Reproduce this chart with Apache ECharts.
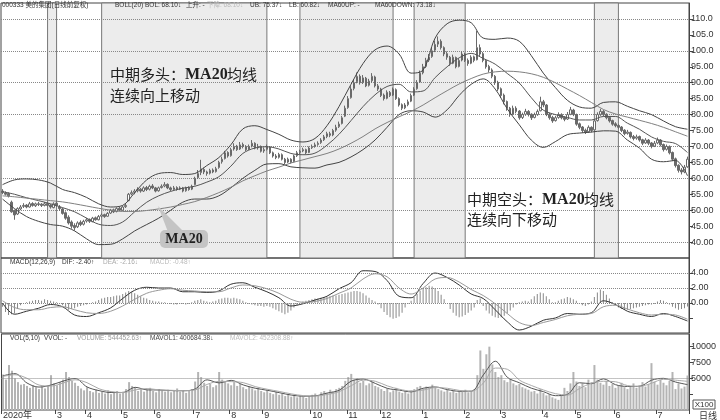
<!DOCTYPE html>
<html lang="zh-CN">
<head>
<meta charset="UTF-8">
<title>美的集团 日线 BOLL</title>
<script src="https://cdn.jsdelivr.net/npm/echarts/dist/echarts.min.js"></script>
<style>html,body{margin:0;padding:0;background:#fff;}</style>
</head>
<body>
<div id="chart" style="width:720px;height:420px"></div>
<script>
// K线，每根 [开, 收, 低, 高]
var candles = [
[56.0,55.5,55.0,56.6],[55.4,55.0,54.6,55.9],[55.2,54.5,54.0,55.6],[52.5,49.5,49.2,53.0],[49.8,48.5,47.0,50.2],[48.8,50.5,48.5,50.9],[50.4,51.0,50.0,51.6],[51.2,51.5,50.7,52.2],[51.6,51.0,50.6,51.9],[51.0,52.0,50.8,52.6],
[52.1,51.5,51.1,52.5],[51.4,52.0,51.0,52.4],[52.0,51.8,51.3,52.6],[51.9,51.5,51.0,52.2],[51.5,52.0,51.2,52.6],[52.1,51.5,51.1,52.4],[51.6,51.0,50.5,51.9],[50.8,52.0,50.6,52.5],[52.2,51.5,51.0,53.0],[51.0,50.5,49.8,51.6],
[50.4,49.0,48.6,50.8],[49.2,47.5,47.0,49.6],[47.8,46.0,45.5,48.4],[46.3,45.0,44.2,46.8],[45.2,44.5,43.6,45.9],[44.8,46.0,44.4,46.5],[46.2,45.5,45.0,46.8],[45.6,46.5,45.2,47.0],[46.6,47.0,46.1,47.6],[47.1,46.5,46.0,47.4],
[46.4,47.5,46.2,47.9],[47.6,47.0,46.7,48.0],[47.0,48.0,46.8,48.5],[48.1,48.5,47.7,49.0],[48.6,48.0,47.6,48.9],[48.1,49.0,47.9,49.4],[49.1,50.0,48.8,50.4],[50.1,49.5,49.1,50.5],[49.6,50.5,49.3,50.9],[50.6,50.0,49.7,51.0],
[50.0,51.0,49.8,51.4],[51.1,51.5,50.7,52.0],[53.0,55.0,52.8,55.4],[55.1,55.5,54.7,56.2],[55.6,56.0,55.0,56.6],[56.1,56.5,55.6,57.2],[56.6,56.0,55.5,57.0],[56.0,57.0,55.7,57.5],[57.1,56.5,56.0,57.6],[56.6,57.5,56.2,58.0],
[57.6,57.0,56.6,58.2],[57.0,56.0,55.6,57.3],[56.1,57.0,55.8,57.4],[57.1,57.5,56.8,58.1],[57.6,58.0,57.2,58.8],[58.1,57.0,56.6,58.4],[57.0,56.5,56.0,57.4],[56.5,57.0,56.2,57.6],[57.1,56.5,56.1,57.5],[56.6,57.0,56.3,57.5],
[57.0,56.0,55.6,57.3],[56.1,57.0,55.8,57.4],[57.1,56.5,56.1,57.5],[56.6,57.5,56.3,58.0],[58.0,60.0,57.8,60.5],[60.2,61.5,59.8,62.6],[61.8,63.0,61.0,65.8],[62.8,62.0,61.3,63.4],[62.0,61.5,60.8,62.4],[61.6,62.5,61.2,63.0],
[62.6,62.0,61.6,63.1],[62.1,63.0,61.8,63.6],[63.4,65.0,63.0,65.5],[65.2,66.0,64.6,66.8],[66.2,68.0,65.9,68.6],[68.1,67.0,66.5,68.5],[67.1,69.0,66.8,69.6],[69.2,70.0,68.7,71.0],[70.1,69.0,68.6,70.5],[69.2,70.5,68.9,71.4],
[70.6,70.0,69.4,71.2],[70.0,69.0,68.5,70.4],[69.1,70.0,68.8,70.6],[70.1,71.0,69.7,72.0],[71.0,69.5,69.1,71.3],[69.6,70.0,69.0,70.8],[70.0,68.5,68.1,70.3],[68.6,69.0,68.0,69.7],[69.1,70.0,68.7,70.6],[69.8,68.0,67.6,70.1],
[68.0,67.0,66.5,68.4],[67.0,66.5,66.0,67.6],[66.6,67.5,66.2,68.0],[67.4,66.0,65.6,67.8],[66.0,65.0,64.4,66.4],[65.1,66.0,64.8,66.5],[66.0,65.0,64.6,66.3],[65.2,67.0,65.0,67.4],[67.1,68.0,66.7,68.6],[68.1,68.5,67.6,69.0],
[68.6,69.0,68.2,69.6],[69.0,68.0,67.6,69.3],[68.1,69.5,67.9,70.0],[69.6,70.0,69.2,70.6],[70.1,70.5,69.6,71.2],[70.6,71.0,70.2,71.6],[71.2,72.0,70.8,72.6],[72.1,73.0,71.7,73.6],[73.1,74.0,72.6,74.6],[74.0,73.5,72.9,74.6],
[73.6,75.0,73.2,75.5],[75.1,76.0,74.6,76.8],[76.2,77.0,75.8,77.8],[77.2,79.0,76.9,79.6],[79.5,82.0,79.2,82.8],[82.2,85.0,81.8,85.8],[85.3,88.0,85.0,88.9],[88.2,90.0,87.6,91.0],[90.3,92.0,89.8,93.2],[92.0,90.0,89.4,92.6],
[90.1,91.5,89.6,92.4],[91.4,89.0,88.6,91.8],[89.2,90.5,88.8,91.2],[90.6,92.0,90.0,93.0],[91.8,89.0,88.5,92.2],[89.0,88.0,87.4,89.6],[88.0,86.0,85.5,88.4],[86.1,85.0,84.4,86.6],[85.1,87.0,84.8,87.6],[86.9,86.0,85.5,87.4],
[86.1,88.0,85.8,88.5],[87.8,85.0,84.6,88.2],[85.0,83.0,82.5,85.4],[83.1,82.0,81.4,83.5],[82.1,83.0,81.7,83.6],[83.1,84.0,82.6,84.7],[84.2,86.0,83.9,86.6],[86.1,88.0,85.8,88.6],[88.1,90.0,87.8,90.8],[90.2,93.0,90.0,93.8],
[93.1,95.0,92.6,95.9],[95.1,97.0,94.6,97.8],[97.1,98.0,96.5,99.0],[98.2,100.0,97.8,101.0],[100.2,102.0,99.6,103.2],[102.1,103.0,101.2,104.5],[103.0,101.0,100.4,103.6],[101.0,99.0,98.3,101.4],[99.1,98.0,97.2,99.8],[98.0,96.0,95.3,98.4],
[96.1,98.0,95.8,98.8],[97.9,95.0,94.5,98.2],[95.1,97.0,94.8,97.6],[97.1,99.0,96.7,99.8],[99.0,97.0,96.5,99.4],[97.0,96.0,95.3,97.6],[96.1,98.0,95.8,98.6],[98.1,97.0,96.4,98.5],[97.2,101.0,97.0,106.2],[101.0,99.0,98.2,102.0],
[99.1,97.0,96.4,99.6],[97.0,95.0,94.4,97.4],[95.1,94.0,93.2,95.6],[94.0,92.0,91.4,94.5],[92.0,90.0,89.3,92.4],[90.1,88.0,87.4,90.6],[88.1,86.0,85.2,88.5],[86.1,84.0,83.2,86.6],[84.1,82.0,81.2,84.4],[82.0,80.0,79.3,82.4],
[80.1,82.0,79.8,82.8],[82.0,81.0,80.4,82.6],[81.1,79.0,78.4,81.4],[79.1,80.0,78.6,80.6],[80.1,81.0,79.6,81.8],[81.0,80.0,79.4,81.4],[80.1,79.0,78.3,80.4],[79.1,80.0,78.8,80.6],[80.0,81.0,79.6,81.6],[81.2,84.0,81.0,85.6],
[84.0,83.0,82.3,84.6],[83.0,80.0,79.5,83.3],[80.1,79.0,78.4,80.6],[79.1,78.0,77.4,79.6],[78.1,79.0,77.8,79.6],[79.1,80.0,78.7,80.7],[80.0,79.0,78.5,80.4],[79.1,78.5,77.9,79.5],[78.6,80.0,78.3,80.8],[80.1,81.5,79.8,82.4],
[81.4,80.0,79.5,81.8],[80.0,77.0,76.5,80.3],[77.1,76.0,75.4,77.5],[76.1,75.0,74.3,76.4],[75.1,74.5,73.9,75.6],[74.6,76.0,74.3,76.6],[76.0,75.0,74.4,76.3],[75.2,78.0,75.0,78.6],[78.1,80.0,77.8,80.7],[80.1,81.0,79.6,81.8],
[81.0,80.0,79.4,81.4],[80.1,79.0,78.5,80.4],[79.1,78.0,77.5,79.4],[78.1,77.0,76.5,78.4],[77.1,76.5,76.0,77.6],[76.6,76.0,75.5,77.0],[76.1,75.0,74.5,76.4],[75.1,74.0,73.5,75.4],[74.1,74.5,73.7,75.2],[74.4,73.0,72.5,74.7],
[73.1,72.5,71.9,73.6],[72.6,73.0,72.1,73.7],[73.1,72.0,71.5,73.4],[72.1,71.0,70.4,72.4],[71.1,72.0,70.8,72.6],[72.0,71.0,70.4,72.3],[71.1,70.0,69.4,71.4],[70.1,71.0,69.8,71.7],[71.1,72.0,70.7,72.8],[72.0,70.5,70.0,72.3],
[70.6,69.0,68.4,70.9],[69.1,70.0,68.7,70.6],[70.0,68.0,67.5,70.3],[68.1,66.0,65.4,68.4],[66.1,64.0,63.4,66.5],[64.1,62.5,61.8,64.4],[62.6,62.0,61.2,63.2],[62.0,63.5,61.6,64.2],[63.6,66.0,63.3,66.8]
];

// 成交量 (X100)
var volumes = [
5600,4800,7100,6200,5000,4400,4000,4100,3800,3500,
3900,3600,3300,3700,3400,3800,5500,4200,3900,4400,
4800,6000,5200,4600,4300,3800,3400,3100,3600,3000,
2800,3200,2700,2900,2600,3100,2500,2800,3000,2600,
2900,3300,4400,3800,3500,3000,3300,2900,3200,3500,
3000,2800,3300,3100,2900,3200,2800,3000,3400,2900,
3100,2700,3000,3300,4500,6000,5200,4300,3800,4100,
3600,3900,6000,4800,4500,4200,3900,4400,3800,4100,
3600,3300,3800,3400,3100,3500,3000,2800,3200,2700,
2500,2900,2400,2600,2200,2500,2100,2400,2000,2300,
2100,1900,2200,2400,2600,2300,2800,3000,2700,3200,
2900,3300,3500,3800,4600,5200,5700,4800,5000,4300,
4600,3900,4200,4500,3800,3600,3300,3000,3400,2800,
3100,3500,2900,2700,3000,2600,3100,3300,3600,3800,
3400,3700,3500,4000,3600,3300,3100,2900,3200,2800,
3100,2700,3000,2900,3200,2800,3000,3300,5500,9400,
6500,8800,10000,7200,6000,5200,5500,4700,4400,4900,
4200,3900,4100,3600,3400,3200,2900,3000,2600,3300,
2700,2300,2500,2000,1800,1600,2400,3500,3000,4200,
6000,4500,3800,4200,3600,4800,4400,7100,4800,4300,
4000,4600,3800,4100,3500,3900,4300,3600,3300,3800,
4200,3500,3900,4400,3700,4100,7400,4500,4000,4800,
4300,3900,4600,6000,3300,4200,3400,3700,5444
];

// MACD 柱
var macdBars = [
-0.5,-1.2,-1.6,-1.5,-1.4,-0.8,-0.3,-0.1,0.1,0.2,
0.3,0.4,0.4,0.3,0.5,0.4,0.3,0.2,0.1,-0.1,
-0.3,-0.6,-0.9,-0.8,-0.7,-0.5,-0.4,-0.3,-0.2,-0.1,
0.1,0.2,0.4,0.6,0.7,0.8,0.8,0.9,1.0,1.0,
1.2,1.4,1.6,1.5,1.3,1.1,0.9,0.7,0.6,0.4,
0.3,0.2,0.2,0.1,0.1,0.0,-0.1,-0.2,-0.2,-0.1,
-0.1,-0.2,-0.1,0.1,0.3,0.4,0.5,0.3,0.2,0.1,
0.2,0.3,0.5,0.6,0.7,0.7,0.6,0.7,0.6,0.5,
0.3,0.1,-0.1,-0.2,-0.3,-0.4,-0.4,-0.5,-0.4,-0.5,
-0.7,-0.9,-1.1,-1.3,-1.5,-1.3,-1.0,-0.6,-0.3,0.0,
0.2,0.3,0.4,0.5,0.6,0.6,0.7,0.8,0.8,0.9,
1.0,1.0,1.1,1.2,1.3,1.4,1.5,1.6,1.6,1.5,
1.3,1.0,0.7,0.4,0.2,-0.2,-0.7,-1.2,-1.6,-1.9,
-2.1,-2.0,-1.8,-1.3,-0.6,-0.1,0.3,0.8,1.2,1.6,
1.9,2.1,2.3,2.2,2.0,1.6,1.1,0.5,0.0,-0.8,
-1.3,-1.7,-1.9,-1.8,-1.6,-1.3,-1.0,-0.6,0.4,0.6,
-0.4,-1.0,-1.4,-1.7,-1.9,-2.0,-1.9,-1.7,-1.4,-1.0,
-0.6,-0.2,0.1,0.2,0.3,0.2,0.5,0.9,1.2,1.4,
1.3,0.9,0.5,0.1,0.1,0.3,0.5,0.6,0.8,0.7,
0.5,0.3,-0.1,-0.3,-0.4,-0.2,0.2,0.8,1.4,1.8,
1.6,1.1,0.6,0.1,-0.3,-0.6,-0.8,-0.9,-0.9,-0.8,
-0.7,-0.6,-0.5,-0.4,-0.3,-0.2,-0.2,-0.1,0.2,0.4,
0.3,0.1,-0.2,-0.5,-0.7,-0.9,-0.8,-0.7,-0.48
];

// 指标线：每隔4根K线读一个值
var step = 4;
var ub = [58.0,59.5,59.8,59.5,58.5,56.5,55.5,54.0,52.0,51.0,
51.5,55.5,59.5,61.5,61.8,61.2,61.5,64.0,66.5,70.5,
75.5,76.5,75.3,73.8,72.0,71.4,72.5,76.5,82.5,89.5,
96.0,100.3,101.5,99.0,93.0,94.0,104.0,108.5,109.6,108.8,
104.0,103.6,104.0,103.0,98.5,93.0,88.5,84.5,82.4,82.0,
83.8,84.0,82.6,81.2,80.0,78.0,76.2,75.4];
var bol = [55.8,55.0,53.9,53.0,52.0,50.8,49.5,47.5,45.6,45.2,
46.3,49.5,52.5,54.5,55.9,56.9,57.5,58.8,60.5,63.8,
67.8,69.5,69.9,69.2,67.8,67.4,67.9,70.4,73.8,78.1,
82.5,86.2,88.8,89.5,87.1,87.4,91.6,95.0,97.8,99.2,
97.6,95.8,92.9,89.9,85.3,81.4,80.0,79.1,78.3,78.3,
79.4,79.4,77.3,75.4,73.0,71.6,70.9,68.1];
var lb = [53.5,50.5,48.0,46.5,45.5,45.0,43.5,41.0,39.2,39.3,
41.0,43.5,45.5,47.5,50.0,52.5,53.5,53.5,54.5,57.0,
60.0,62.5,64.5,64.6,63.6,63.3,63.2,64.2,65.0,66.7,
69.0,72.0,76.0,80.0,81.2,80.8,79.2,81.5,86.0,89.5,
91.2,88.0,81.8,76.8,72.0,69.7,71.5,73.7,74.2,74.5,
74.9,74.8,72.0,69.5,66.0,65.2,65.6,60.8];
var ma60 = [54.5,54.2,53.8,53.4,53.0,52.6,52.0,51.3,50.6,50.0,
49.6,49.6,49.9,50.4,51.0,51.8,52.7,54.0,55.5,57.2,
59.2,60.8,62.3,63.5,64.8,65.8,66.8,67.8,69.2,71.0,
73.1,75.5,77.5,79.3,81.0,83.0,85.3,87.5,89.6,91.3,
92.7,93.4,93.6,93.4,92.8,91.7,90.0,88.0,86.0,83.8,
81.6,80.2,79.2,78.2,77.2,76.0,74.6,73.2];
var dif = [0.0,-1.5,-1.1,-0.7,-0.2,-0.5,-1.6,-1.8,-1.3,-0.65,
0.6,1.7,2.1,2.0,2.0,1.5,1.5,1.4,1.6,2.5,
2.7,2.1,1.5,0.7,-0.4,-0.1,0.4,0.9,1.9,2.7,
4.3,4.2,3.0,0.9,0.7,2.6,4.0,3.4,2.4,1.2,
0.6,-0.9,-2.5,-3.6,-3.1,-2.3,-2.0,-1.4,-1.5,-1.3,
0.3,-0.2,-1.1,-1.5,-1.8,-1.4,-1.8,-2.4];
var dea = [0.3,-0.6,-0.9,-0.9,-0.6,-0.5,-0.9,-1.3,-1.4,-1.1,
-0.4,0.5,1.3,1.7,1.9,1.7,1.6,1.5,1.5,2.0,
2.4,2.3,1.9,1.3,0.5,0.1,0.2,0.6,1.3,2.0,
3.2,3.9,3.5,2.0,1.2,2.0,3.2,3.4,2.8,1.8,
1.0,-0.1,-1.4,-2.6,-3.0,-2.6,-2.2,-1.7,-1.5,-1.4,
-0.5,-0.3,-0.8,-1.3,-1.6,-1.5,-1.6,-2.16];
var mavol1 = [5400,5740,4260,3620,3940,4560,4980,3640,3060,2760,
2760,3580,3180,3160,3060,3040,3320,4760,4280,4680,
3960,3440,3120,2740,2360,2180,2240,2680,3120,4560,
4880,4200,3420,3140,2860,3440,3640,3220,2960,2980,
5540,7700,5160,4300,3440,2900,2260,2460,4300,4160,
4920,4000,3720,3740,4700,5000,4420,4007];
var mavol2 = [5300,5570,5000,3940,3780,4250,4770,4310,3350,2910,
2760,3170,3380,3170,3110,3050,3180,4040,4520,4480,
4320,3700,3280,2930,2550,2270,2210,2460,2900,3840,
4720,4540,3810,3280,3000,3150,3540,3430,3090,2970,
4260,6620,6430,4730,3870,3170,2580,2360,3380,4230,
4540,4460,3860,3730,4220,4850,4710,4523];

// 月份刻度 [K线序号, 文字]
var monthTicks = [[0,'2020年'],[18,'3'],[28,'4'],[40,'5'],[51,'6'],[64,'7'],[76,'8'],[87,'9'],
  [103,'10'],[115,'11'],[126,'12'],[140,'1'],[154,'2'],[166,'3'],[180,'4'],[191,'5'],[204,'6'],[218,'7']];
// 灰色阴影区间 [起, 止]
var bands = [[15,18],[33,88],[99,130],[137,154],[197,205]];
var priceLines = [40,50,60,70,80,90,100,110];
var macdLines = [0,2,4];
var volLines = [5000];

var N = candles.length;
var cats = [];
for (var i = 0; i < N; i++) cats.push(i);
var tickText = {};
monthTicks.forEach(function (t) { tickText[t[0]] = t[1]; });

function sampled(vals) {
    return vals.map(function (v, k) { return [k * step, v]; });
}
function hLines(vals) {
    return vals.map(function (v) { return {yAxis: v}; });
}

var numFont = 'Liberation Sans';
var cjkFont = "'Liberation Sans','Noto Sans CJK SC'";

function xAxisFor(gi, withLabel) {
    return {
        type: 'category', gridIndex: gi, data: cats, boundaryGap: true,
        axisLine: {show: false},
        axisTick: {
            show: withLabel, length: 4, lineStyle: {color: '#444'},
            interval: function (idx) { return tickText[idx] !== undefined; }
        },
        axisLabel: {
            show: withLabel, interval: 0, align: 'left', margin: 1,
            fontSize: 9, color: '#333', fontFamily: cjkFont,
            formatter: function (v, idx) { return tickText[idx] || ''; }
        },
        splitLine: {show: false}
    };
}

function yAxisFor(gi, min, max, interval, fmt) {
    return {
        type: 'value', gridIndex: gi, position: 'right',
        min: min, max: max, interval: interval,
        axisLine: {show: true, lineStyle: {color: '#444'}},
        axisTick: {show: true, length: 4, lineStyle: {color: '#444'}},
        axisLabel: {fontSize: 9, color: '#333', margin: 2, fontFamily: numFont,
            showMinLabel: false, showMaxLabel: false, formatter: fmt},
        splitLine: {show: false}
    };
}

function lineSeries(name, vals, xi, color, width) {
    return {
        name: name, type: 'line', xAxisIndex: xi, yAxisIndex: xi,
        data: sampled(vals), smooth: 0.35, showSymbol: false, silent: true,
        lineStyle: {color: color, width: width || 1}, z: 3
    };
}

// 文字元素，放在阴影之上
function txt(x, y, text, color, size, family, weight) {
    return {
        type: 'text', x: x, y: y, z: 100, silent: true,
        style: {text: text, fill: color || '#333', fontSize: size || 6.5,
            fontFamily: family || cjkFont, fontWeight: weight || 'normal'}
    };
}

var dotted = {type: 'dotted', color: '#888', width: 1};

var myChart = echarts.init(document.getElementById('chart'), null, {renderer: 'canvas'});

var option = {
    animation: false,
    backgroundColor: '#fff',
    grid: [
        {left: 1, right: 31, top: 3, height: 255, show: true, borderColor: '#444', borderWidth: 1},
        {left: 1, right: 31, top: 258, height: 75, show: true, borderColor: '#444', borderWidth: 1},
        {left: 1, right: 31, top: 334, height: 76, show: true, borderColor: '#444', borderWidth: 1}
    ],
    xAxis: [xAxisFor(0, false), xAxisFor(1, false), xAxisFor(2, true)],
    yAxis: [
        yAxisFor(0, 35, 115, 5, function (v) {
            if (v < 40 || v > 110) return '';
            return v >= 100 ? v.toFixed(1) : v.toFixed(2);
        }),
        yAxisFor(1, -4, 6, 2, function (v) {
            return (v >= 0 && v <= 4) ? v.toFixed(2) : '';
        }),
        yAxisFor(2, 0, 12000, 2500, function (v) {
            return v >= 5000 && v <= 10000 ? String(v) : '';
        })
    ],
    series: [
        {
            name: 'K', type: 'candlestick', xAxisIndex: 0, yAxisIndex: 0,
            data: candles, barWidth: 2, silent: true, z: 2,
            itemStyle: {color: '#fff', color0: '#6a6a6a', borderColor: '#6a6a6a', borderColor0: '#6a6a6a', borderWidth: 1},
            markArea: {
                silent: true,
                itemStyle: {color: '#ececec', borderColor: '#777', borderWidth: 1},
                data: bands.map(function (b) { return [{xAxis: b[0]}, {xAxis: b[1]}]; })
            },
            markLine: {
                silent: true, symbol: 'none', z: 1, label: {show: false},
                lineStyle: dotted, data: hLines(priceLines)
            }
        },
        lineSeries('UB', ub, 0, '#444'),
        lineSeries('BOL', bol, 0, '#555'),
        lineSeries('LB', lb, 0, '#444'),
        lineSeries('MA60', ma60, 0, '#808080'),
        {
            name: 'MACD', type: 'bar', xAxisIndex: 1, yAxisIndex: 1,
            data: macdBars, barWidth: 1, silent: true,
            itemStyle: {color: '#888'},
            markLine: {
                silent: true, symbol: 'none', label: {show: false},
                lineStyle: dotted, data: hLines(macdLines)
            }
        },
        lineSeries('DIF', dif, 1, '#333'),
        lineSeries('DEA', dea, 1, '#999'),
        {
            name: 'VOL', type: 'bar', xAxisIndex: 2, yAxisIndex: 2,
            data: volumes, barWidth: 2, silent: true,
            itemStyle: {color: '#b4b4b4'},
            markLine: {
                silent: true, symbol: 'none', label: {show: false},
                lineStyle: dotted, data: hLines(volLines)
            }
        },
        lineSeries('MAVOL1', mavol1, 2, '#555'),
        lineSeries('MAVOL2', mavol2, 2, '#aaa')
    ],
    graphic: [
        // 顶部指标说明
        txt(2, 2, '000333 美的集团(日线前复权)'),
        txt(115, 2, 'BOLL(20)'),
        txt(145, 2, 'BOL: 68.10↓'),
        txt(186, 2, '上升: -'),
        txt(207, 2, '下降: 68.10↓', '#bbb'),
        txt(250, 2, 'UB: 75.37↓'),
        txt(289, 2, 'LB: 60.82↓'),
        txt(328, 2, 'MA60UP: -'),
        txt(375, 2, 'MA60DOWN: 73.18↓'),

        txt(10, 259, 'MACD(12,26,9)'),
        txt(62, 259, 'DIF: -2.40↑'),
        txt(103, 259, 'DEA: -2.16↓', '#aaa'),
        txt(150, 259, 'MACD: -0.48↑', '#bbb'),

        txt(10, 335, 'VOL(5,10)'),
        txt(44, 335, 'VVOL: -'),
        txt(77, 335, 'VOLUME: 544452.63↑', '#999'),
        txt(150, 335, 'MAVOL1: 400684.38↓', '#444'),
        txt(230, 335, 'MAVOL2: 452308.88↑', '#bbb'),

        // 文字说明
        txt(110, 67, '中期多头：', '#222', 15, 'Noto Sans CJK SC'),
        txt(185, 67, 'MA20', '#222', 16, 'Liberation Serif', 'bold'),
        txt(227, 67, '均线', '#222', 15, 'Noto Sans CJK SC'),
        txt(110, 88, '连续向上移动', '#222', 15, 'Noto Sans CJK SC'),
        txt(467, 192, '中期空头：', '#222', 15, 'Noto Sans CJK SC'),
        txt(542, 192, 'MA20', '#222', 16, 'Liberation Serif', 'bold'),
        txt(584, 192, '均线', '#222', 15, 'Noto Sans CJK SC'),
        txt(467, 212, '连续向下移动', '#222', 15, 'Noto Sans CJK SC'),

        // MA20 标注框
        {type: 'polygon', shape: {points: [[158, 206], [168, 232], [184, 232]]}, style: {fill: '#c4c4c4'}, z: 100},
        {type: 'rect', shape: {x: 160, y: 230, width: 48, height: 18, r: 5}, style: {fill: '#c4c4c4'}, z: 100},
        {type: 'text', x: 184, y: 239, z: 101, style: {text: 'MA20', fontSize: 14, fontWeight: 'bold', fontFamily: 'Liberation Serif', fill: '#222', align: 'center', verticalAlign: 'middle'}},

        // 右下角
        {type: 'rect', z: 100, shape: {x: 693, y: 400, width: 22, height: 9}, style: {fill: '#fff', stroke: '#555', lineWidth: 1}},
        {type: 'text', x: 704, y: 405, z: 101, style: {text: 'X100', fontSize: 8, fontFamily: numFont, fill: '#333', align: 'center', verticalAlign: 'middle'}},
        txt(699, 411, '日线', '#333', 9, 'Noto Sans CJK SC')
    ]
};
myChart.setOption(option);
</script>
</body>
</html>
